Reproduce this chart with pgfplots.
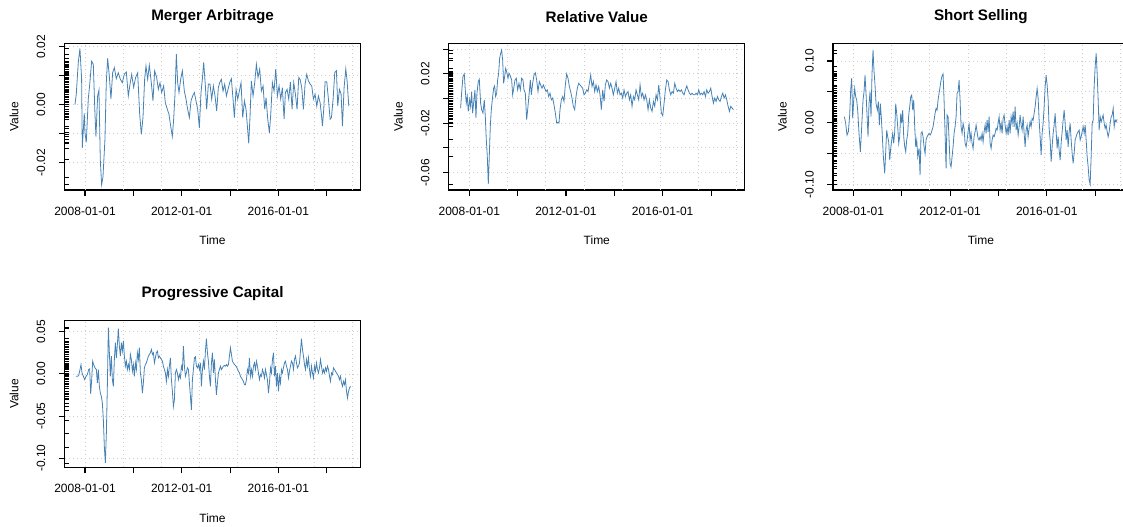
\documentclass[border=0pt]{standalone}
\usepackage{pgfplots}
\pgfplotsset{compat=1.18}
\usepackage{pgfplotstable}
\usepackage{fontspec}
\setmainfont{Liberation Sans}
\definecolor{steel}{RGB}{70,130,180}
\definecolor{rgrid}{RGB}{205,205,205}

% x = months since 2007-08, y = value
\pgfplotstableread{
x y
0 0.000
0.66 0.0036
1.66 0.0146
2.48 0.0194
3.31 0.009
3.64 -0.015
4.64 -0.003
4.97 -0.0097
5.63 -0.013
6.62 0.002
7.28 0.0065
8.28 0.015
9.11 0.014
9.93 -0.003
10.43 -0.011
11.26 0.003
11.92 0.005
12.58 -0.019
13.25 -0.0277
13.91 -0.025
14.9 -0.012
15.56 0.0076
16.23 0.016
17.05 0.010
17.88 0.002
18.71 0.011
19.54 0.0128
20.53 0.009
21.52 0.011
22.52 0.0088
23.51 0.0076
24.5 0.0105
25.5 0.0113
26.49 0.003
27.32 0.007
28.15 0.0105
29.14 0.006
30.13 0.0094
31.13 0.011
32.12 -0.003
32.95 -0.0103
33.77 -0.0045
34.6 0.0088
35.26 0.0134
36.09 0.0088
36.92 0.0137
37.91 0.0076
38.74 0.0013
39.57 0.0117
40.56 0.0094
41.39 0.0053
42.22 0.0076
43.05 0.0042
44.04 0.0065
44.87 0.0007
45.86 -0.0016
46.69 -0.0034
47.52 -0.0074
48.34 -0.011
49.01 -0.005
49.67 0.0036
50.33 0.0175
50.99 0.0076
51.66 0.0042
52.48 0.0088
53.31 0.0117
54.3 0.0047
55.13 0.0019
55.96 -0.0016
56.79 -0.0045
57.62 0.0013
58.44 0.003
59.27 0.0042
59.93 0.0019
60.93 -0.0016
61.75 -0.008
62.58 0.0042
63.25 0.0088
63.91 0.0146
64.74 0.0065
65.4 -0.0016
66.23 0.0071
67.05 0.0071
67.88 0.0019
68.71 0.0065
69.54 0.003
70.36 -0.0022
71.19 0.0059
71.85 0.0076
72.68 0.0088
73.51 0.0047
74.34 0.0071
75.17 0.003
75.99 0.0053
76.82 0.0076
77.65 0.009
78.48 0.0019
79.14 -0.0045
79.97 0.0053
80.79 0.0019
81.62 0.0047
82.45 0.0076
83.28 -0.0045
84.11 0.0013
84.93 -0.0016
85.6 -0.0074
86.26 -0.0134
86.92 -0.004
87.58 0.0082
88.41 0.003
89.24 0.0076
90.07 0.014
90.89 0.0094
91.72 0.0123
92.55 0.0047
93.38 0.0065
94.21 -0.0016
94.87 0.0024
95.7 -0.005
96.52 -0.0097
97.19 -0.0034
98.01 0.0076
98.84 0.0047
99.67 0.0123
100.5 0.003
101.32 0.0065
102.15 0.0019
102.98 0.0059
103.81 -0.005
104.47 0.0042
105.3 0.0053
106.13 0.0019
106.95 0.0079
107.78 -0.0016
108.61 0.0076
109.44 0.0036
110.26 -0.0016
111.09 0.0094
111.75 0.0088
112.58 0.0059
113.41 -0.0016
114.24 0.0071
115.07 0.0105
115.89 0.0082
116.72 0.0071
117.55 0.0065
118.38 0.0019
119.21 0.0036
120.03 -0.0005
120.86 0.003
121.69 0.0007
122.35 -0.0034
122.85 -0.0074
123.51 -0.0016
124.17 0.0079
125 0.0079
125.83 0.0019
126.66 -0.005
127.32 -0.0045
128.15 0.0019
128.97 0.0111
129.8 0.0117
130.46 -0.0005
131.29 0.0053
132.12 0.0036
132.78 -0.0074
133.61 0.0059
134.44 0.0123
135.1 0.0082
135.93 -0.0005
}\tabMA

\pgfplotstableread{
x y
0.70 -0.0078
1.19 0.0043
1.85 0.0177
2.52 0.0199
3.01 0.007
3.51 -0.0038
4.01 0.0016
4.5 -0.0105
5.17 -0.0011
5.66 -0.0064
6.16 0.0056
6.66 -0.0118
7.32 -0.0011
7.81 0.007
8.31 -0.0158
8.81 0.0043
9.47 0.0137
9.97 0.0156
10.63 -0.0038
11.13 -0.0091
11.79 -0.0118
12.45 -0.0011
12.95 -0.0145
13.44 -0.0333
13.94 -0.0467
14.44 -0.0695
14.93 -0.0467
15.43 -0.0226
15.93 -0.0091
16.42 -0.0011
17.09 0.0083
17.58 0.0102
18.08 0.0016
18.58 0.0043
19.07 0.015
19.57 0.0204
20.07 0.0325
20.56 0.0365
21.06 0.0392
21.56 0.0311
22.05 0.0123
22.55 0.0177
23.05 0.0244
23.54 0.0217
24.21 0.0164
24.7 0.0204
25.36 0.0183
26.03 0.015
26.53 0.003
27.19 0.0097
27.68 0.015
28.34 0.0164
29.01 0.007
29.67 0.0123
30.33 0.007
30.99 0.0164
31.65 0.015
32.15 0.007
32.81 0.0043
33.48 -0.0172
34.14 -0.0064
34.8 0.0056
35.3 0.015
35.8 0.003
36.46 0.0123
37.12 0.0191
37.78 0.0209
38.44 0.015
39.11 0.0056
39.77 0.0137
40.43 0.011
41.09 0.0083
41.75 0.011
42.42 0.0083
43.08 0.0056
43.74 0.007
44.4 0.0016
45.07 0.0043
45.73 -0.0011
46.39 0.0003
47.05 -0.0051
47.71 -0.0118
48.38 -0.0199
49.04 -0.0193
49.54 -0.0199
50.03 -0.0091
50.7 -0.0011
51.36 0.0016
52.02 -0.0024
52.68 0.011
53.34 0.0199
54.01 0.0164
54.67 0.0097
55.33 0.0056
55.99 0.0003
56.65 -0.0064
57.32 -0.0091
57.98 0.0016
58.64 0.0083
59.3 0.0123
59.97 0.011
60.63 0.0097
61.29 0.0083
61.95 0.003
62.62 0.0043
63.28 0.007
63.94 0.0056
64.6 0.0123
65.26 0.0191
65.93 0.0097
66.59 0.0137
67.25 0.0056
67.91 0.011
68.58 0.0056
69.24 0.0097
69.9 0.003
70.56 -0.0091
71.23 0.007
71.89 -0.0024
72.55 0.011
73.21 0.015
73.87 0.0137
74.54 0.0083
75.2 0.0123
75.86 0.0083
76.52 0.003
77.19 0.0083
77.85 0.0137
78.51 0.0043
79.17 0.0083
79.83 0.003
80.5 0.0043
81.16 0.0003
81.82 0.007
82.48 0.0016
83.15 0.0043
83.81 0.0056
84.47 -0.0011
85.13 0.003
85.79 -0.0064
86.46 0.0016
87.12 -0.0011
87.78 0.007
88.44 0.003
89.11 -0.0011
89.77 0.011
90.43 0.0016
91.09 0.0043
91.75 -0.0011
92.42 0.003
93.08 -0.0011
93.74 -0.0091
94.4 -0.0011
95.07 -0.0078
95.73 -0.0105
96.39 -0.0024
97.05 -0.0064
97.71 0.003
98.38 -0.0011
99.04 0.011
99.7 0.0003
100.36 -0.0118
101.03 -0.014
101.69 -0.0038
102.35 0.007
103.01 0.015
103.67 0.0137
104.34 0.007
105 0.003
105.66 0.0056
106.32 0.0043
106.99 0.0123
107.65 0.0083
108.31 0.0056
108.97 0.007
109.63 0.0056
110.3 0.007
110.96 0.0043
111.62 0.003
112.28 0.007
112.95 0.0102
113.61 0.007
114.27 0.0043
114.93 0.003
115.59 0.0043
116.26 0.003
116.92 0.003
117.58 0.0043
118.24 0.003
118.91 0.007
119.57 0.003
120.23 0.0043
120.89 0.003
121.56 0.0056
122.22 0.0016
122.88 0.007
123.54 0.0043
124.2 0.0056
124.87 0.0083
125.53 0.0016
126.19 -0.0038
126.85 0.0003
127.52 -0.0024
128.18 0.0016
128.84 -0.0011
129.5 -0.0024
130.17 0.0016
130.83 0.0043
131.49 0.0003
132.15 0.003
132.82 -0.0011
133.48 -0.0064
134.14 -0.0105
134.8 -0.0064
135.46 -0.0078
136.13 -0.0091
}\tabRV

\pgfplotstableread{
x y
0.53 0.0097
1.19 -0.001
1.85 -0.02
2.52 -0.0146
3.18 0.0124
3.68 0.053
4.17 0.072
4.67 0.007
5.17 0.0368
5.66 0.0557
6.16 0.042
6.66 0.0368
7.15 0.0205
7.81 -0.0173
8.48 -0.047
9.14 -0.0065
9.80 0.0368
10.30 0.050
10.79 0.077
11.29 0.0476
11.79 0.0124
12.28 -0.0227
12.78 0.031
13.28 0.050
13.77 0.0097
14.27 0.080
14.77 0.118
15.26 0.083
15.76 0.061
16.26 0.031
16.92 0.0205
17.42 0.034
17.91 -0.0038
18.41 0.031
18.91 0.007
19.40 -0.0227
19.90 -0.0551
20.56 -0.082
21.06 -0.047
21.56 -0.0119
22.05 -0.0227
22.55 -0.031
23.05 -0.0605
23.54 -0.0416
24.04 -0.028
24.54 -0.0173
25.03 -0.0335
25.53 -0.0146
26.03 0.031
26.52 0.0151
27.02 -0.0065
27.52 -0.0335
28.01 -0.0227
28.51 0.0151
29.01 -0.001
29.50 0.0205
30.00 -0.0227
30.50 -0.039
30.99 -0.047
31.49 -0.028
31.99 -0.0173
32.48 0.0124
32.98 0.026
33.48 0.042
33.97 0.0449
34.47 0.0205
34.97 0.0368
35.46 -0.0065
35.96 -0.039
36.46 -0.028
36.95 -0.0551
37.62 -0.0416
38.11 -0.0849
38.61 -0.0173
39.11 -0.0146
39.60 -0.0227
40.10 -0.039
40.60 -0.0497
41.09 -0.028
41.59 -0.0227
42.09 -0.02
42.58 -0.0173
43.08 -0.02
43.58 -0.0173
44.07 -0.0119
44.57 -0.0065
45.07 0.0043
45.56 0.0151
46.06 0.0232
46.56 0.0205
47.05 0.0368
47.55 0.0476
48.05 0.0584
48.54 0.069
49.04 0.0757
49.54 0.079
50.03 0.0368
50.53 -0.0173
51.03 -0.074
51.52 0.0124
52.02 0.0097
52.52 -0.028
53.01 -0.066
53.51 -0.0714
54.01 -0.0551
54.50 -0.039
55.00 -0.0173
55.50 -0.0065
55.99 0.0097
56.49 0.0476
56.99 0.050
57.48 0.069
57.98 0.0368
58.48 -0.0065
58.97 -0.0173
59.47 -0.001
59.97 -0.0092
60.46 -0.0335
60.96 -0.039
61.46 -0.028
61.95 -0.0146
62.45 -0.001
62.95 -0.028
63.44 -0.0173
63.94 -0.0335
64.44 -0.0416
64.93 -0.0227
65.43 -0.0146
65.93 -0.0038
66.42 -0.0146
66.92 -0.0254
67.42 -0.028
67.91 -0.0227
68.41 -0.028
68.91 -0.0173
69.40 -0.031
69.90 -0.0146
70.40 -0.0038
70.89 -0.0173
71.39 0.0043
71.89 -0.0146
72.38 0.0097
72.88 -0.0335
73.38 -0.0416
73.87 -0.028
74.37 -0.02
74.87 -0.0227
75.36 -0.0173
75.86 -0.0092
76.36 -0.0119
76.85 -0.001
77.35 0.0097
77.85 -0.0119
78.34 -0.001
78.84 -0.0173
79.34 0.007
79.83 0.0124
80.33 -0.0038
80.83 -0.0173
81.32 -0.0065
81.82 -0.02
82.32 0.0043
82.81 -0.0173
83.31 0.0097
83.81 -0.001
84.30 0.0178
84.80 -0.0065
85.30 0.026
85.79 -0.0119
86.29 -0.001
86.79 -0.02
87.28 -0.0065
87.78 0.0124
88.28 -0.0038
88.77 -0.0119
89.27 0.0097
89.77 -0.0173
90.26 -0.039
90.76 -0.0119
91.26 -0.0038
91.75 -0.0227
92.25 -0.0092
92.75 0.0016
93.24 -0.0065
93.74 0.007
94.24 0.0043
94.73 0.0151
95.23 0.026
95.73 0.042
96.22 0.0557
96.72 0.0395
97.22 0.0043
97.71 -0.0227
98.21 -0.0524
98.71 -0.0173
99.20 -0.001
99.70 0.026
100.20 0.0584
100.69 0.077
101.19 0.061
101.69 0.0368
102.18 -0.0092
102.68 -0.028
103.18 -0.063
103.67 -0.039
104.17 -0.0173
104.67 -0.0038
105.16 0.0151
105.66 -0.0146
106.16 -0.0416
106.65 -0.0227
107.15 -0.0443
107.65 -0.0605
108.14 -0.0335
108.64 -0.0146
109.14 0.0043
109.63 0.0205
110.13 -0.001
110.63 -0.028
111.12 -0.0119
111.62 -0.039
112.12 -0.0146
112.61 -0.001
113.11 -0.028
113.61 -0.0497
114.10 -0.066
114.60 -0.0497
115.10 -0.028
115.59 -0.0227
116.09 -0.0173
116.59 -0.0146
117.08 -0.0119
117.58 -0.028
118.08 -0.0227
118.57 -0.0146
119.07 -0.0065
119.57 -0.0173
120.06 -0.0038
120.56 -0.028
121.06 -0.0551
121.55 -0.0714
122.05 -0.093
122.55 -0.0995
123.04 -0.0551
123.54 -0.001
124.04 0.0043
124.53 0.0584
125.03 0.0908
125.53 0.1124
126.02 0.080
126.52 0.0368
127.02 -0.0119
127.51 0.0097
128.01 0.0016
128.51 0.007
129.00 0.0124
129.50 -0.001
130.00 -0.0092
130.49 -0.0038
130.99 -0.0146
131.49 -0.0227
131.98 -0.0146
132.48 -0.001
132.98 0.0097
133.47 0.0124
133.97 0.0232
134.47 -0.0065
134.97 0.0043
135.46 0.0016
135.96 0.0054
}\tabSS

\pgfplotstableread{
x y
0.53 -0.0028
1.19 -0.0028
1.85 -0.002
2.52 0.0052
3.01 0.0111
3.51 0.0012
4.17 -0.0028
4.83 -0.0068
5.50 -0.0028
6.16 -0.0008
6.82 0.0052
7.32 0.006
7.81 -0.0235
8.31 -0.0068
8.81 0.0151
9.30 0.0111
9.97 0.0072
10.63 0.0052
11.13 -0.0107
11.62 0.0052
12.12 -0.0147
12.62 -0.0227
13.11 -0.0267
13.61 -0.0346
14.11 -0.0545
14.60 -0.0864
15.10 -0.1055
15.60 -0.0704
16.09 -0.0147
16.59 0.0549
17.09 0.0251
17.58 -0.0028
18.08 0.0211
18.58 -0.0068
19.07 -0.0147
19.57 0.0171
20.07 0.037
20.56 0.0191
21.06 0.035
21.56 0.0537
22.05 0.033
22.55 0.0211
23.05 0.037
23.54 0.0271
24.04 0.039
24.54 0.0211
25.03 0.0092
25.53 0.0151
26.03 0.0052
26.52 0.0111
27.02 0.0052
27.52 0.0231
28.01 0.0171
28.51 0.0032
29.01 0.0111
29.50 -0.0028
30.00 0.0131
30.50 0.0052
30.99 0.0251
31.49 0.0171
31.99 0.031
32.48 0.0012
32.98 -0.0068
33.48 -0.0227
33.97 -0.0107
34.47 0.0072
34.97 0.0111
35.47 0.0131
35.96 0.0171
36.46 0.0211
36.96 0.0231
37.45 0.0251
37.95 0.029
38.45 0.0231
38.94 0.0251
39.44 0.0131
39.94 0.0191
40.43 0.0251
40.93 0.0271
41.43 0.0191
41.92 0.0211
42.42 0.0191
42.92 0.0171
43.41 0.0151
43.91 0.0092
44.41 0.0052
44.90 0.0012
45.40 -0.0088
45.90 0.0052
46.39 -0.0028
46.89 0.0092
47.39 0.0191
47.88 -0.0068
48.38 -0.0207
48.88 -0.0386
49.37 -0.0306
49.87 0.0012
50.37 0.0052
50.86 0.0012
51.36 -0.0068
51.86 -0.0008
52.35 -0.0048
52.85 0.0092
53.35 0.0052
53.84 0.033
54.34 0.0092
54.84 -0.0028
55.33 0.0012
55.83 0.0072
56.33 0.0052
56.82 -0.0107
57.32 -0.0267
57.82 -0.0426
58.31 -0.0068
58.81 0.0052
59.31 0.0191
59.80 0.0203
60.30 0.0092
60.80 0.0072
61.29 0.0111
61.79 0.0052
62.29 0.0131
62.78 -0.0147
63.28 0.0052
63.78 0.0151
64.27 0.0052
64.77 0.0271
65.27 0.0418
65.76 0.0251
66.26 0.0151
66.76 -0.0028
67.25 -0.0147
67.75 0.0131
68.25 0.0251
68.74 0.0012
69.24 0.0171
69.74 -0.0068
70.23 -0.0247
70.73 -0.0107
71.23 0.0012
71.72 0.0052
72.22 0.0092
72.72 0.0052
73.21 0.0072
73.71 0.0092
74.21 0.01
74.70 0.0092
75.20 0.0111
75.70 0.0092
76.19 0.0111
76.69 0.0211
77.19 0.031
77.68 0.0231
78.18 0.0151
78.68 0.0131
79.17 0.0111
79.67 0.01
80.17 0.0084
80.66 0.006
81.16 0.0032
81.66 0.0012
82.15 -0.0028
82.65 -0.0048
83.15 -0.0068
83.64 -0.0088
84.14 -0.0127
84.64 -0.0127
85.13 -0.0068
85.63 0.0052
86.13 0.0012
86.62 0.0191
87.12 -0.0028
87.62 0.0052
88.11 -0.0028
88.61 0.0092
89.11 0.0131
89.60 0.0052
90.10 0.0151
90.60 0.0092
91.09 0.0012
91.59 -0.0068
92.09 -0.0008
92.58 -0.0028
93.08 0.0052
93.58 0.0012
94.07 -0.0048
94.57 0.0052
95.07 -0.0008
95.56 -0.0068
96.06 -0.0227
96.56 -0.0107
97.05 0.0072
97.55 0.0012
98.05 0.0171
98.54 0.0251
99.04 -0.0028
99.54 0.0092
100.03 -0.0147
100.53 0.0012
101.03 -0.0207
101.52 -0.0028
102.02 -0.0107
102.52 0.0052
103.01 0.0012
103.51 0.0072
104.01 0.0131
104.50 0.0151
105.00 0.0092
105.50 0.0052
105.99 -0.0048
106.49 0.0032
106.99 0.0092
107.48 0.0151
107.98 0.0131
108.48 0.0052
108.97 0.0171
109.47 0.0211
109.97 0.0131
110.46 0.0072
110.96 0.0092
111.46 0.0131
111.95 0.0271
112.45 0.0418
112.95 0.029
113.44 0.0211
113.94 0.0111
114.44 0.0052
114.93 0.0171
115.43 0.0092
115.93 0.0191
116.42 0.0052
116.92 -0.0028
117.42 0.0092
117.91 0.0012
118.41 -0.0048
118.91 0.0092
119.40 0.0032
119.90 0.0131
120.40 0.0052
120.89 0.0012
121.39 0.0072
121.89 0.0171
122.38 0.0092
122.88 0.0012
123.38 0.0052
123.87 0.0012
124.37 0.0072
124.87 0.0032
125.36 0.0092
125.86 0.0052
126.36 -0.0028
126.85 -0.0088
127.35 0.0012
127.85 -0.0008
128.34 0.0072
128.84 0.0052
129.34 0.0032
129.83 0.0012
130.33 -0.0008
130.83 -0.0028
131.32 -0.0068
131.82 -0.0028
132.32 -0.0107
132.81 -0.0147
133.31 -0.0088
133.81 -0.0127
134.30 -0.0068
134.80 -0.0207
135.30 -0.0286
135.79 -0.0207
136.29 -0.0167
136.79 -0.0147
}\tabPC

\pgfplotsset{rts/.style={
  scale only axis, width=221.8pt, height=110pt,
  anchor=south west,
  xmin=-5.1, xmax=141.7,
  xtick={5,29,53,77,101,125},
  xticklabels={2008-01-01,,2012-01-01,,2016-01-01,},
  xtick pos=bottom, ytick pos=left,
  tick align=outside, major tick length=4.5pt,
  scaled y ticks=false, scaled x ticks=false,
  axis line style={black, line width=0.8pt},
  every tick/.style={draw=black, line width=0.8pt},
  ymajorgrids=true,
  every axis grid/.style={draw=rgrid, line width=0.6pt, dash pattern=on 1pt off 2pt},
  every major grid/.style={},
  extra x ticks={5,23.97,42.94,61.91,80.88,99.85,118.82,137.79},
  extra x tick labels={},
  extra x tick style={xmajorgrids=true, major tick length=0pt},
  ticklabel style={font=\fontsize{9}{10}\selectfont},
  xticklabel style={anchor=center, yshift=-11.4pt},
  yticklabel style={xshift=-13.2pt, rotate=90, anchor=center},
  every axis title/.style={at={(0.5,1.182)}, anchor=center, font=\bfseries\fontsize{11.4}{13}\selectfont},
  xlabel={Time}, ylabel={Value},
  label style={font=\fontsize{9}{10}\selectfont},
  xlabel style={at={(axis description cs:0.5,-0.345)}, anchor=center},
  ylabel style={at={(axis description cs:-0.171,0.5)}, anchor=center},
}}
\pgfplotsset{
  ser/.style={steel, line width=0.6pt, no marks},
  rug/.style={only marks, mark=-, mark size=1.6pt, black, mark options={line width=0.45pt}},
}

\begin{document}
\begin{tikzpicture}
\begin{axis}[rts, at={(48.5pt,252pt)}, title={Merger Arbitrage},
  ymin=-0.0295, ymax=0.0212,
  ytick={-0.02,-0.01,0,0.01,0.02}, yticklabels={-0.02,,0.00,,0.02}]
\addplot[rug] table[x expr=-4.1, y=y]{\tabMA};
\addplot[ser] table[x=x, y=y]{\tabMA};
\end{axis}

\begin{axis}[rts, at={(336.7pt,252pt)}, title={Relative Value},
  ymin=-0.0742, ymax=0.0447,
  ytick={-0.06,-0.04,-0.02,0,0.02,0.04}, yticklabels={-0.06,,-0.02,,0.02,}]
\addplot[rug] table[x expr=-4.1, y=y]{\tabRV};
\addplot[ser] table[x=x, y=y]{\tabRV};
\end{axis}

\begin{axis}[rts, at={(624.75pt,252pt)}, title={Short Selling},
  ymin=-0.109, ymax=0.1286,
  ytick={-0.1,-0.05,0,0.05,0.1}, yticklabels={-0.10,,0.00,,0.10}]
\addplot[rug] table[x expr=-4.1, y=y]{\tabSS};
\addplot[ser] table[x=x, y=y]{\tabSS};
\end{axis}

\begin{axis}[rts, at={(48.5pt,44pt)}, title={Progressive Capital},
  ymin=-0.1107, ymax=0.0631,
  ytick={-0.1,-0.05,0,0.05}, yticklabels={-0.10,-0.05,0.00,0.05}]
\addplot[rug] table[x expr=-4.1, y=y]{\tabPC};
\addplot[ser] table[x=x, y=y]{\tabPC};
\end{axis}

\pgfresetboundingbox
\path[use as bounding box] (0,0) rectangle (842.25pt,394.5pt);
\end{tikzpicture}
\end{document}
